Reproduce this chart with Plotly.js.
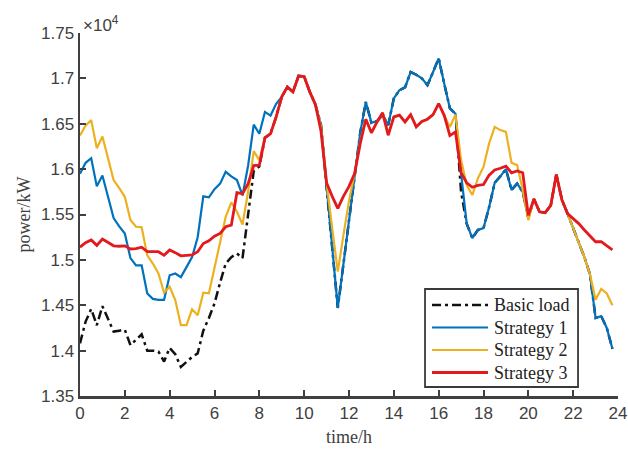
<!DOCTYPE html>
<html>
<head>
<meta charset="utf-8">
<script src="https://cdn.plot.ly/plotly-3.0.1.min.js"></script>
<style>html,body{margin:0;padding:0;background:#fff;}#chart{width:628px;height:449px;}</style>
</head>
<body>
<div id="chart"></div>
<script>
// time step: 15 min, 96 points per day
var stepsPerHour = 4;
var nPoints = 96;
var timeH = [];
for (var i = 0; i < nPoints; i++) timeH.push(i / stepsPerHour);

var seriesNames = ["Basic load", "Strategy 1", "Strategy 2", "Strategy 3"];

// power in kW
var basicLoad = [
14080,14320,14460,14280,14490,14350,14210,14220,
14230,14060,14120,14180,14000,14000,13990,13880,
14030,13960,13820,13880,13930,13970,14220,14360,
14520,14750,14960,15030,15070,15020,15530,15980,
16030,16345,16390,16576,16796,16906,16851,17027,
17020,16851,16712,16490,15800,15130,14470,14950,
15430,15910,16400,16740,16510,16530,16595,16485,
16780,16870,16900,17070,17040,17000,16925,17070,
17220,16940,16670,16610,15750,15400,15240,15330,
15350,15580,15850,15920,16000,15770,15840,15750,
15460,15670,15530,15520,15600,15940,15660,15510,
15350,15200,15030,14840,14360,14380,14250,14020
];
var strategy1 = [
15950,16070,16120,15810,15930,15680,15460,15370,
15290,15020,14940,14940,14630,14570,14560,14560,
14830,14850,14810,14920,15030,15250,15700,15690,
15780,15840,15970,15920,15880,15710,16040,16490,
16390,16630,16590,16720,16796,16906,16851,17027,
17020,16851,16712,16490,15800,15130,14470,14950,
15430,15910,16400,16740,16510,16530,16595,16485,
16780,16870,16900,17070,17040,17000,16925,17070,
17220,16940,16670,16610,15950,15400,15240,15330,
15350,15580,15850,15920,16000,15770,15840,15750,
15460,15670,15530,15520,15600,15940,15660,15510,
15350,15200,15030,14840,14360,14380,14250,14020
];
var strategy2 = [
16370,16480,16540,16230,16360,16120,15880,15790,
15695,15440,15365,15360,15050,14960,14850,14640,
14704,14557,14280,14280,14455,14390,14638,14631,
14900,15200,15475,15633,15530,15390,15750,16198,
16100,16345,16390,16576,16796,16906,16851,17027,
17020,16851,16712,16470,15850,15350,14870,15270,
15650,15950,16300,16550,16400,16520,16620,16374,
16576,16595,16520,16600,16466,16525,16550,16600,
16723,16590,16465,16600,16100,15824,15714,15898,
16025,16283,16466,16430,16411,16070,16044,15770,
15438,15670,15530,15520,15600,15940,15660,15510,
15350,15200,15030,14840,14560,14680,14630,14500
];
var strategy3 = [
15140,15190,15220,15160,15230,15190,15155,15150,
15155,15120,15125,15140,15090,15090,15090,15050,
15110,15080,15045,15050,15055,15090,15180,15210,
15260,15292,15365,15383,15740,15730,15840,16040,
16044,16345,16390,16576,16796,16906,16851,17027,
17020,16851,16712,16420,15850,15700,15567,15700,
15810,15950,16280,16550,16400,16520,16620,16374,
16576,16595,16520,16600,16466,16525,16550,16600,
16723,16590,16370,16410,15960,15850,15800,15820,
15830,15934,15990,16010,16033,15960,15980,15960,
15490,15670,15530,15520,15600,15940,15660,15510,
15460,15400,15330,15270,15200,15200,15160,15110
];

var scale = 10000; // axis shown in units of 10^4 kW
function scaled(arr){ return arr.map(function(v){ return v / scale; }); }

var allSeries = [basicLoad, strategy1, strategy2, strategy3];
var colors = ["#111111", "#0072BD", "#EDB120", "#E3191E"];
var widths = [2.5, 2.2, 2.2, 2.8];
var dashes = ["9px,4px,3px,4px", "solid", "solid", "solid"];

var traces = allSeries.map(function(s, k){
  return {
    x: timeH, y: scaled(s), name: seriesNames[k], type: "scatter", mode: "lines",
    line: {color: colors[k], width: widths[k], dash: dashes[k]}
  };
});

var axisColor = "#404040";
var tickFont = {family: "Liberation Sans, Arial, sans-serif", size: 17, color: axisColor};
var titleFont = {family: "Liberation Serif, Times New Roman, serif", size: 18, color: axisColor};
var legendFont = {family: "Liberation Serif, Times New Roman, serif", size: 18, color: "#222"};

// custom MATLAB-style legend (box, line samples, labels) in paper coordinates
var lgX0 = 0.6413, lgX1 = 0.9257, lgY0 = 0.0248, lgY1 = 0.2948;
var lgLineX0 = 0.6543, lgLineX1 = 0.7584, lgTextX = 0.7677;
var lgRowY = [0.2507, 0.1887, 0.1267, 0.0647];

var shapes = [{
  type: "rect", xref: "paper", yref: "paper", x0: lgX0, x1: lgX1, y0: lgY0, y1: lgY1,
  line: {color: "#3a3a3a", width: 1.8}, fillcolor: "#fff", layer: "above"
}];
var annotations = [{
  xref: "paper", yref: "paper", x: 0, y: 1, xanchor: "left", yanchor: "bottom",
  text: "×10<sup>4</sup>", showarrow: false, yshift: -4, xshift: 1,
  font: {family: "Liberation Sans, Arial, sans-serif", size: 17, color: axisColor}
}];
seriesNames.forEach(function(nm, k){
  shapes.push({
    type: "line", xref: "paper", yref: "paper", x0: lgLineX0, x1: lgLineX1, y0: lgRowY[k], y1: lgRowY[k],
    line: {color: colors[k], width: widths[k], dash: dashes[k]}, layer: "above"
  });
  annotations.push({
    xref: "paper", yref: "paper", x: lgTextX, y: lgRowY[k], xanchor: "left", yanchor: "middle",
    text: nm, showarrow: false, font: legendFont, borderpad: 0
  });
});

var layout = {
  width: 628, height: 449,
  margin: {l: 80, r: 10, t: 33, b: 53},
  paper_bgcolor: "#fff", plot_bgcolor: "#fff",
  showlegend: false,
  xaxis: {
    range: [0, 24], tick0: 0, dtick: 2, ticks: "inside", ticklen: 6, tickwidth: 2,
    tickcolor: axisColor, showline: true, linecolor: axisColor, linewidth: 2.5,
    showgrid: false, zeroline: false, tickfont: tickFont,
    title: {text: "time/h", font: titleFont, standoff: 9}
  },
  yaxis: {
    range: [1.35, 1.75], tick0: 1.35, dtick: 0.05, ticks: "inside", ticklen: 6, tickwidth: 2,
    tickcolor: axisColor, showline: true, linecolor: axisColor, linewidth: 2.5,
    showgrid: false, zeroline: false, tickfont: tickFont,
    title: {text: "power/kW", font: titleFont, standoff: 6}
  },
  shapes: shapes,
  annotations: annotations
};

Plotly.newPlot("chart", traces, layout, {staticPlot: true, displayModeBar: false});
</script>
</body>
</html>
